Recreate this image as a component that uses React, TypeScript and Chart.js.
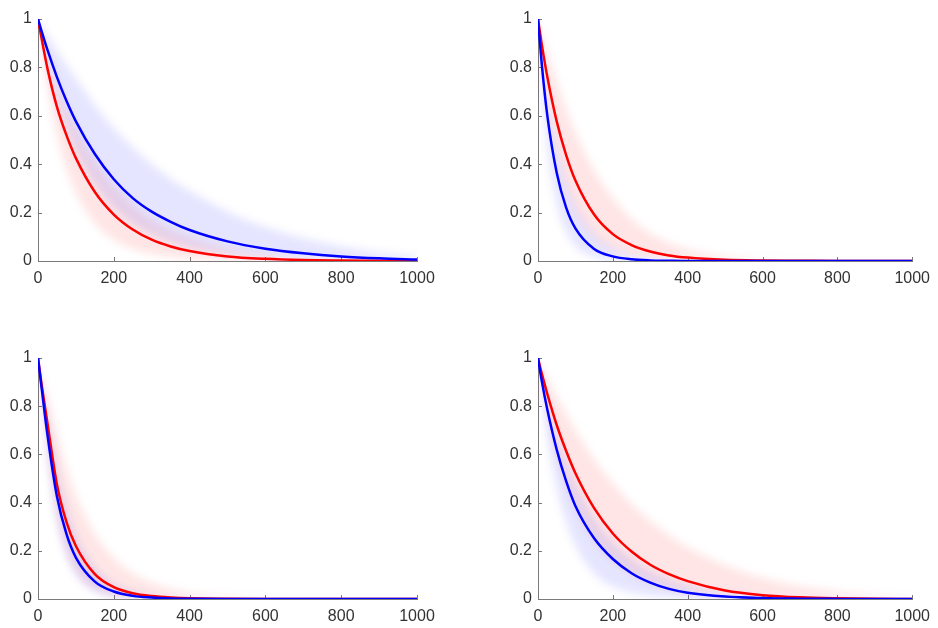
import React, { useEffect, useRef } from 'react';
import { Chart, registerables } from 'chart.js';

Chart.register(...registerables);

// Shared x positions (time steps)
const X = [0, 10, 25, 50, 75, 100, 150, 200, 250, 300, 350, 400, 500, 600, 700, 800, 900, 1000];
const X_TICKS = [0, 200, 400, 600, 800, 1000];
const Y_TICKS = [0, 0.2, 0.4, 0.6, 0.8, 1];

// Top-left panel
const tlRed = [1, 0.915, 0.795, 0.637, 0.52, 0.425, 0.285, 0.192, 0.13, 0.088, 0.06, 0.041, 0.019, 0.009, 0.004, 0.002, 0.001, 0];
const tlBlue = [1, 0.947, 0.872, 0.76, 0.662, 0.577, 0.442, 0.338, 0.26, 0.204, 0.162, 0.128, 0.081, 0.051, 0.032, 0.019, 0.011, 0.006];
const tlRedHi = [1, 0.945, 0.865, 0.745, 0.645, 0.56, 0.42, 0.315, 0.235, 0.175, 0.13, 0.097, 0.053, 0.029, 0.016, 0.009, 0.005, 0.003];
const tlRedLo = [1, 0.88, 0.72, 0.52, 0.38, 0.28, 0.155, 0.087, 0.05, 0.029, 0.017, 0.01, 0.003, 0.001, 0, 0, 0, 0];
const tlBlueHi = [1, 0.975, 0.935, 0.87, 0.81, 0.755, 0.645, 0.55, 0.47, 0.4, 0.34, 0.29, 0.205, 0.14, 0.095, 0.06, 0.035, 0.02];
const tlBlueLo = [1, 0.92, 0.81, 0.665, 0.55, 0.455, 0.315, 0.22, 0.155, 0.11, 0.078, 0.056, 0.029, 0.015, 0.008, 0.004, 0.002, 0.001];

// Top-right panel
const trRed = [1, 0.896, 0.76, 0.577, 0.439, 0.333, 0.192, 0.111, 0.066, 0.039, 0.023, 0.014, 0.005, 0.002, 0.001, 0, 0, 0];
const trBlue = [1, 0.815, 0.6, 0.365, 0.222, 0.135, 0.05, 0.019, 0.007, 0.0025, 0.001, 0, 0, 0, 0, 0, 0, 0];
const trRedHi = [1, 0.95, 0.87, 0.745, 0.63, 0.53, 0.375, 0.26, 0.175, 0.115, 0.075, 0.048, 0.019, 0.007, 0.003, 0.001, 0, 0];
const trRedLo = [1, 0.85, 0.66, 0.44, 0.295, 0.2, 0.095, 0.046, 0.022, 0.011, 0.005, 0.0025, 0.001, 0, 0, 0, 0, 0];
const trBlueHi = [1, 0.87, 0.7, 0.485, 0.335, 0.235, 0.115, 0.055, 0.027, 0.013, 0.006, 0.003, 0.001, 0, 0, 0, 0, 0];
const trBlueLo = [1, 0.73, 0.47, 0.235, 0.12, 0.06, 0.016, 0.004, 0.001, 0, 0, 0, 0, 0, 0, 0, 0, 0];

// Bottom-left panel
const blRed = [1, 0.885, 0.73, 0.475, 0.32, 0.22, 0.103, 0.049, 0.024, 0.012, 0.006, 0.003, 0.001, 0, 0, 0, 0, 0];
const blBlue = [1, 0.87, 0.68, 0.425, 0.27, 0.172, 0.072, 0.031, 0.013, 0.006, 0.0025, 0.001, 0, 0, 0, 0, 0, 0];
const blRedHi = [1, 0.935, 0.845, 0.69, 0.545, 0.43, 0.27, 0.17, 0.107, 0.067, 0.042, 0.026, 0.01, 0.004, 0.0015, 0.0005, 0, 0];
const blRedLo = [1, 0.83, 0.61, 0.34, 0.195, 0.112, 0.037, 0.012, 0.004, 0.0013, 0, 0, 0, 0, 0, 0, 0, 0];
const blBlueHi = [1, 0.9, 0.76, 0.54, 0.38, 0.265, 0.13, 0.064, 0.031, 0.015, 0.007, 0.0035, 0.001, 0, 0, 0, 0, 0];
const blBlueLo = [1, 0.83, 0.6, 0.325, 0.18, 0.1, 0.031, 0.01, 0.003, 0.001, 0, 0, 0, 0, 0, 0, 0, 0];

// Bottom-right panel
const brRed = [1, 0.936, 0.85, 0.722, 0.615, 0.522, 0.377, 0.272, 0.197, 0.142, 0.103, 0.074, 0.035, 0.016, 0.007, 0.003, 0.001, 0];
const brBlue = [1, 0.905, 0.785, 0.62, 0.49, 0.386, 0.252, 0.166, 0.107, 0.068, 0.042, 0.026, 0.01, 0.0038, 0.0015, 0.0005, 0, 0];
const brRedHi = [1, 0.97, 0.92, 0.84, 0.77, 0.7, 0.58, 0.48, 0.395, 0.325, 0.265, 0.215, 0.14, 0.088, 0.053, 0.03, 0.015, 0.006];
const brRedLo = [1, 0.9, 0.77, 0.6, 0.48, 0.38, 0.245, 0.16, 0.105, 0.068, 0.044, 0.029, 0.012, 0.005, 0.002, 0.001, 0, 0];
const brBlueHi = [1, 0.93, 0.83, 0.69, 0.575, 0.48, 0.335, 0.235, 0.165, 0.115, 0.08, 0.056, 0.027, 0.013, 0.006, 0.003, 0.001, 0];
const brBlueLo = [1, 0.86, 0.67, 0.46, 0.32, 0.22, 0.105, 0.052, 0.026, 0.013, 0.006, 0.003, 0.001, 0, 0, 0, 0, 0];

const RED = '#ff0000';
const BLUE = '#0000ff';
const RED_BAND = 'rgba(255,0,0,0.10)';
const BLUE_BAND = 'rgba(0,0,255,0.10)';
const AXIS_COLOR = '#7a7a7a';
const LABEL_COLOR = '#333333';
const FONT = { family: '"Liberation Sans", Arial, Helvetica, sans-serif', size: 16 };
const BAND_BLUR = 'blur(4px)';

const CANVAS_W = 469;
const CANVAS_H = 314;

type PanelSpec = {
  left: number;
  top: number;
  areaLeft: number;
  areaRight: number;
  areaTop: number;
  areaBottom: number;
  red: number[];
  blue: number[];
  redHi: number[];
  redLo: number[];
  blueHi: number[];
  blueLo: number[];
};

const PANELS: PanelSpec[] = [
  { left: 0, top: 0, areaLeft: 38, areaRight: 417, areaTop: 19, areaBottom: 261, red: tlRed, blue: tlBlue, redHi: tlRedHi, redLo: tlRedLo, blueHi: tlBlueHi, blueLo: tlBlueLo },
  { left: 469, top: 0, areaLeft: 69, areaRight: 448, areaTop: 19, areaBottom: 261, red: trRed, blue: trBlue, redHi: trRedHi, redLo: trRedLo, blueHi: trBlueHi, blueLo: trBlueLo },
  { left: 0, top: 314, areaLeft: 38, areaRight: 417, areaTop: 44, areaBottom: 285, red: blRed, blue: blBlue, redHi: blRedHi, redLo: blRedLo, blueHi: blBlueHi, blueLo: blBlueLo },
  { left: 469, top: 314, areaLeft: 69, areaRight: 448, areaTop: 44, areaBottom: 285, red: brRed, blue: brBlue, redHi: brRedHi, redLo: brRedLo, blueHi: brBlueHi, blueLo: brBlueLo },
];

const toPoints = (ys: number[]) => X.map((x, i) => ({ x, y: ys[i] }));

// MATLAB-style inward ticks + soft (blurred) confidence bands
const axesDecor = {
  id: 'axesDecor',
  beforeDatasetsDraw(chart: any) {
    const { ctx, chartArea, scales } = chart;
    const xs = scales.x;
    const ys = scales.y;
    ctx.save();
    ctx.strokeStyle = AXIS_COLOR;
    ctx.lineWidth = 1;
    ctx.beginPath();
    for (const v of X_TICKS) {
      const px = Math.round(xs.getPixelForValue(v)) + 0.5;
      ctx.moveTo(px, chartArea.bottom);
      ctx.lineTo(px, chartArea.bottom - 4);
    }
    for (const v of Y_TICKS) {
      const py = Math.round(ys.getPixelForValue(v)) + 0.5;
      ctx.moveTo(chartArea.left, py);
      ctx.lineTo(chartArea.left + 4, py);
    }
    ctx.stroke();
    ctx.restore();
    // blur for the band fills (drawn first, highest indices)
    ctx.save();
    ctx.filter = BAND_BLUR;
  },
  afterDatasetDraw(chart: any, args: any) {
    if (args.index === 2) {
      chart.ctx.restore();
    }
  },
};

function Panel({ spec }: { spec: PanelSpec }) {
  const ref = useRef<HTMLCanvasElement | null>(null);
  useEffect(() => {
    if (!ref.current) return;
    const lineDs = (data: number[], color: string) => ({
      data: toPoints(data),
      borderColor: color,
      borderWidth: 2.5,
      pointRadius: 0,
      fill: false,
      cubicInterpolationMode: 'monotone' as const,
    });
    const bandDs = (data: number[], color: string, fill: any) => ({
      data: toPoints(data),
      borderColor: 'rgba(0,0,0,0)',
      borderWidth: 0,
      pointRadius: 0,
      backgroundColor: color,
      fill,
      cubicInterpolationMode: 'monotone' as const,
    });
    const chart = new Chart(ref.current, {
      type: 'line',
      data: {
        datasets: [
          lineDs(spec.blue, BLUE),
          lineDs(spec.red, RED),
          bandDs(spec.blueHi, BLUE_BAND, '+1'),
          bandDs(spec.blueLo, BLUE_BAND, false),
          bandDs(spec.redHi, RED_BAND, '+1'),
          bandDs(spec.redLo, RED_BAND, false),
        ],
      },
      options: {
        responsive: false,
        animation: false,
        events: [],
        layout: {
          padding: { left: 0, right: CANVAS_W - spec.areaRight, top: spec.areaTop, bottom: 0 },
        },
        plugins: {
          legend: { display: false },
          tooltip: { enabled: false },
        },
        scales: {
          x: {
            type: 'linear',
            min: 0,
            max: 1000,
            grid: { display: false, drawTicks: false },
            border: { display: true, color: AXIS_COLOR, width: 1 },
            ticks: {
              stepSize: 200,
              padding: 8,
              color: LABEL_COLOR,
              font: FONT,
              maxRotation: 0,
              autoSkip: false,
              callback: (v: any) => String(v),
            },
            afterFit: (s: any) => {
              s.height = CANVAS_H - spec.areaBottom;
            },
          },
          y: {
            type: 'linear',
            min: 0,
            max: 1,
            grid: { display: false, drawTicks: false },
            border: { display: true, color: AXIS_COLOR, width: 1 },
            ticks: {
              stepSize: 0.2,
              padding: 6,
              color: LABEL_COLOR,
              font: FONT,
              autoSkip: false,
              callback: (v: any) => String(Number(Number(v).toFixed(1))),
            },
            afterFit: (s: any) => {
              s.width = spec.areaLeft;
            },
          },
        },
      },
      plugins: [axesDecor],
    });
    return () => chart.destroy();
  }, [spec]);
  return (
    <div style={{ position: 'absolute', left: spec.left, top: spec.top, width: CANVAS_W, height: CANVAS_H }}>
      <canvas ref={ref} width={CANVAS_W} height={CANVAS_H} style={{ width: CANVAS_W, height: CANVAS_H, display: 'block' }} />
    </div>
  );
}

export default function App() {
  return (
    <div style={{ position: 'absolute', left: 0, top: 0, width: 938, height: 628, background: '#ffffff', overflow: 'hidden' }}>
      {PANELS.map((p, i) => (
        <Panel key={i} spec={p} />
      ))}
    </div>
  );
}
